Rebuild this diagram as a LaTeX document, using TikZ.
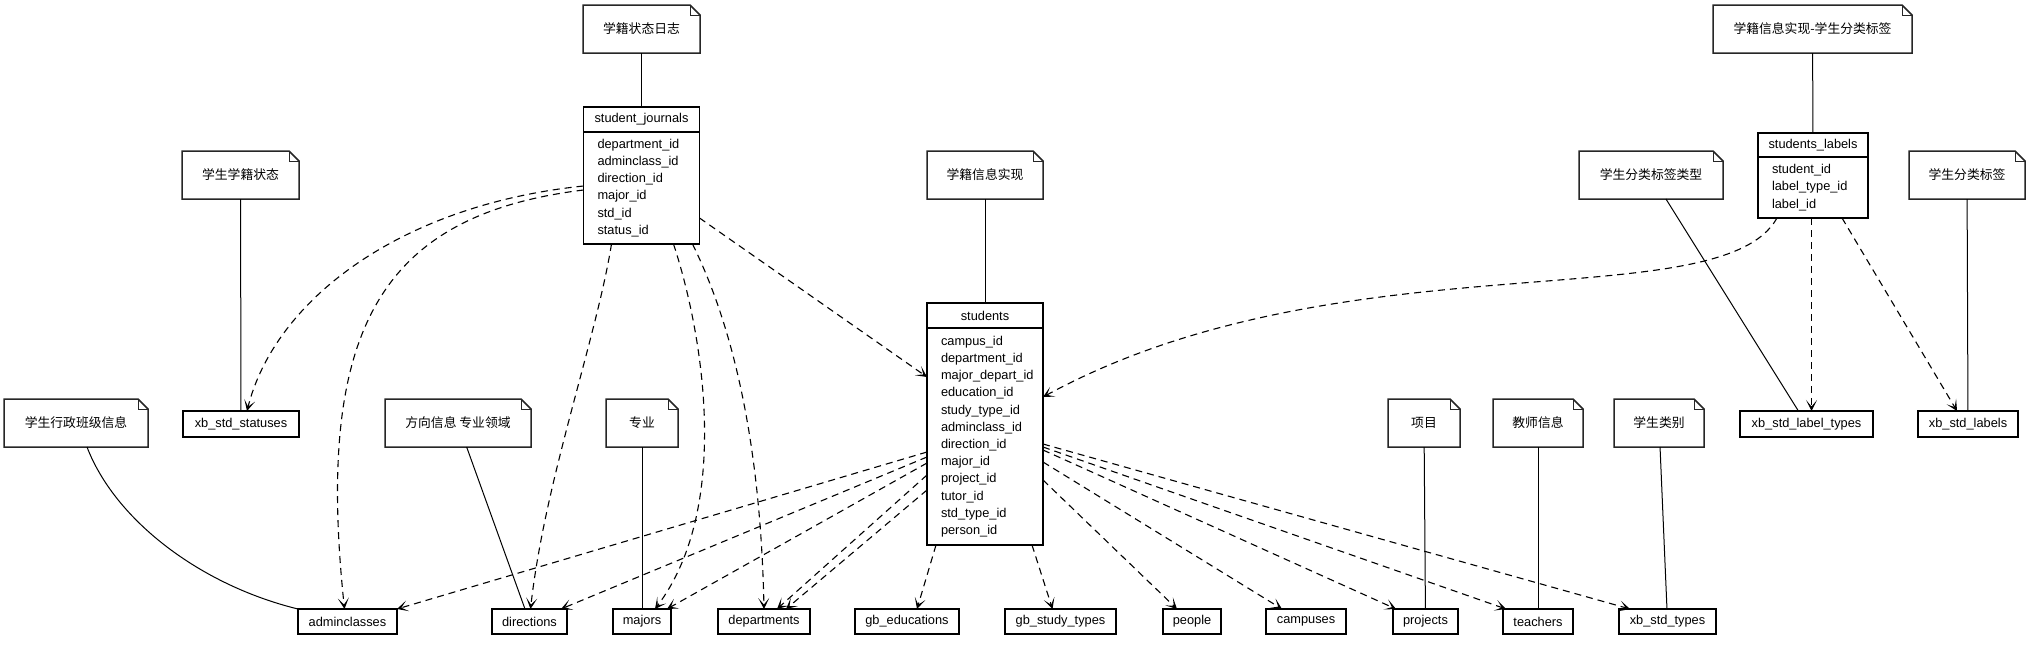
\documentclass[tikz,border=0pt]{standalone}
\usepackage{fontspec}
\setmainfont{Liberation Sans}
\newfontfamily\cjk{Noto Sans CJK SC}
\usetikzlibrary{arrows.meta,calc}

\begin{document}
\begin{tikzpicture}[x=1pt,y=-1pt,
	every node/.style={font=\fontsize{12.8}{17.2}\selectfont, inner sep=0pt, outer sep=0pt},
	note/.style={minimum width=#1, minimum height=48pt, font=\cjk\fontsize{12.8}{17.2}\selectfont},
	noteline/.style={line width=1.5pt, draw=black!85},
	tablehead/.style={draw, line width=1.2pt, minimum width=#1, minimum height=25pt},
	tablebody/.style={draw, line width=1.2pt, text width=#1, align=left, anchor=north},
	entity/.style={draw, line width=1.2pt, minimum width=#1, minimum height=25pt},
	link/.style={line width=1pt},
	dep/.style={->, line width=1.1pt, dash pattern=on 7pt off 5pt},
	>={Stealth[length=11pt,width=11pt,inset=6.5pt]}]
	\useasboundingbox[fill=white] (0,0) rectangle (2033,651);

	% notes
	\node [note=117pt] (nJournalLog) at (641.5,29) {学籍状态日志};
	\node [note=116pt] (nStdInfo) at (985,175) {学籍信息实现};
	\node [note=199pt] (nLabelInfo) at (1812.5,29) {学籍信息实现-学生分类标签};
	\node [note=144pt] (nLabelType) at (1651,175) {学生分类标签类型};
	\node [note=116pt] (nLabel) at (1967,175) {学生分类标签};
	\node [note=117pt] (nStatus) at (240.5,175) {学生学籍状态};
	\node [note=144pt] (nAdmin) at (76,423) {学生行政班级信息};
	\node [note=146pt] (nDirection) at (458,423) {方向信息 专业领域};
	\node [note=72pt] (nMajor) at (642,423) {专业};
	\node [note=72pt] (nProject) at (1424,423) {项目};
	\node [note=90pt] (nTeacher) at (1538,423) {教师信息};
	\node [note=90pt] (nStdType) at (1659,423) {学生类别};
	\foreach \n in {nJournalLog,nStdInfo,nLabelInfo,nLabelType,nLabel,nStatus,nAdmin,nDirection,nMajor,nProject,nTeacher,nStdType} {
		\draw [noteline] (\n.south west) -- (\n.north west) -- ([xshift=-10pt]\n.north east) -- ([yshift=-10pt]\n.north east) -- (\n.south east) -- cycle;
		\draw [noteline, line width=1pt] ([xshift=-10pt]\n.north east) |- ([yshift=-10pt]\n.north east);
	}

	% tables
	\node [tablehead=116pt] (sjh) at (641.5,119.5) {student\_journals};
	\node [tablebody=116pt, minimum height=112pt] (sjf) at (sjh.south) {\leftskip=14pt department\_id\\adminclass\_id\\direction\_id\\major\_id\\std\_id\\status\_id\par};
	\node [tablehead=116pt] (sth) at (985,315.5) {students};
	\node [tablebody=116pt, minimum height=217pt] (stf) at (sth.south) {\leftskip=14pt campus\_id\\department\_id\\major\_depart\_id\\education\_id\\study\_type\_id\\adminclass\_id\\direction\_id\\major\_id\\project\_id\\tutor\_id\\std\_type\_id\\person\_id\par};
	\node [tablehead=110pt, minimum height=24pt] (slh) at (1813,145) {students\_labels};
	\node [tablebody=110pt, minimum height=61pt] (slf) at (slh.south) {\leftskip=14pt student\_id\\label\_type\_id\\label\_id\par};

	% entities
	\node [entity=116pt, minimum height=26pt] (xbStatus) at (241,424) {xb\_std\_statuses};
	\node [entity=133pt, minimum height=26pt] (xbLabelType) at (1806.5,424) {xb\_std\_label\_types};
	\node [entity=100pt, minimum height=26pt] (xbLabel) at (1968,424) {xb\_std\_labels};
	\node [entity=99pt] (adminclasses) at (347.5,621.5) {adminclasses};
	\node [entity=75pt] (directions) at (529.5,621.5) {directions};
	\node [entity=58pt] (majors) at (642,621.5) {majors};
	\node [entity=92pt] (departments) at (764,621.5) {departments};
	\node [entity=104pt] (gbEdu) at (907,621.5) {gb\_educations};
	\node [entity=111pt] (gbStudy) at (1060.5,621.5) {gb\_study\_types};
	\node [entity=58pt] (people) at (1192,621.5) {people};
	\node [entity=80pt] (campuses) at (1306,621.5) {campuses};
	\node [entity=65pt] (projects) at (1425.5,621.5) {projects};
	\node [entity=70pt] (teachers) at (1538,621.5) {teachers};
	\node [entity=97pt] (xbStdType) at (1667.5,621.5) {xb\_std\_types};

	% note links
	\draw [link] (nJournalLog) -- (sjh);
	\draw [link] (nStdInfo) -- (sth);
	\draw [link] (nLabelInfo) -- (slh);
	\draw [link] (nStatus) -- (xbStatus);
	\draw [link] ([xshift=11pt]nAdmin.south) .. controls (115,520) and (200,585) .. (adminclasses.north west);
	\draw [link] (nDirection) -- (directions);
	\draw [link] (nMajor) -- (majors);
	\draw [link] (nProject) -- (projects);
	\draw [link] (nTeacher) -- (teachers);
	\draw [link] (nStdType) -- (xbStdType);
	\draw [link] (nLabelType) -- (xbLabelType);
	\draw [link] (nLabel) -- (xbLabel);

	% student_journals
	\draw [dep] (sjf.west |- 0,186) .. controls (400,205) and (275,300) .. ([xshift=6pt]xbStatus.north);
	\draw [dep] (sjf.west |- 0,190) .. controls (380,215) and (315,330) .. ([xshift=-3pt]adminclasses.north);
	\draw [dep] ([xshift=28pt]sjf.south west) .. controls (596,340) and (545,480) .. ([xshift=1pt]directions.north);
	\draw [dep] ([xshift=90pt]sjf.south west) .. controls (705,340) and (730,510) .. ([xshift=13pt]majors.north);
	\draw [dep] ([xshift=109pt]sjf.south west) .. controls (725,310) and (760,420) .. (departments.north);
	\draw [dep] (sjf.east |- 0,218) -- (stf.west |- 0,377);

	% students
	\draw [dep] (stf.west |- 0,452) -- (adminclasses.north east);
	\draw [dep] (stf.west |- 0,457) -- ([xshift=-6pt]directions.north east);
	\draw [dep] (stf.west |- 0,463) -- ([xshift=-4pt]majors.north east);
	\draw [dep] (stf.west |- 0,475) -- ([xshift=13pt]departments.north);
	\draw [dep] (stf.west |- 0,490) -- ([xshift=22pt]departments.north);
	\draw [dep] ([xshift=9pt]stf.south west) -- ([xshift=10pt]gbEdu.north);
	\draw [dep] ([xshift=-11pt]stf.south east) -- ([xshift=-8pt]gbStudy.north);
	\draw [dep] (stf.east |- 0,480) -- ([xshift=-15pt]people.north);
	\draw [dep] (stf.east |- 0,462) -- ([xshift=-24pt]campuses.north);
	\draw [dep] (stf.east |- 0,450) -- ([xshift=3pt]projects.north west);
	\draw [dep] (stf.east |- 0,447) -- ([xshift=3pt]teachers.north west);
	\draw [dep] (stf.east |- 0,444) -- ([xshift=11pt]xbStdType.north west);

	% students_labels
	\draw [dep] ([xshift=19pt]slf.south west) .. controls (1720,320) and (1340,235) .. (stf.east |- 0,397);
	\draw [dep] ([xshift=-1.5pt]slf.south) -- ([xshift=-1.5pt]slf.south |- xbLabelType.north);
	\draw [dep] ([xshift=29pt]slf.south) -- ([xshift=-11pt]xbLabel.north);
\end{tikzpicture}
\end{document}
